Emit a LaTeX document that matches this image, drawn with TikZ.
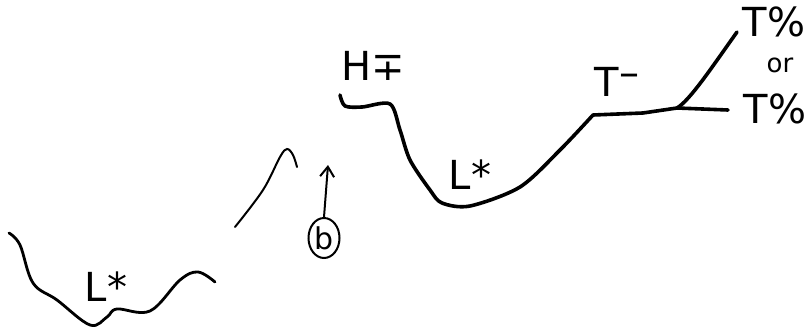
\documentclass[tikz,border=0pt]{standalone}
\usepackage{fontspec}
\setmainfont{DejaVu Sans}
\usetikzlibrary{arrows.meta,shapes.geometric}
\tikzset{
  contour/.style={line width=2.8pt, line cap=round, line join=round},
  thinline/.style={line width=2pt, line cap=round},
  tonelabel/.style={font=\fontsize{40}{40}\selectfont, inner sep=0pt},
}
\begin{document}
\begin{tikzpicture}[x=1pt, y=-1pt]
      \useasboundingbox (0,0) rectangle (809,332);
      % left contour
      \draw[contour] plot[smooth, tension=0.6] coordinates {(9,233) (20,245) (33,283) (57,300) (90,325) (107,317) (117,309) (150,311) (180,280) (198,272) (215,282)};
      \node[tonelabel] (lstarA) at (106,287) {L*};
      % rising piece and peak
      \draw[thinline] plot[smooth, tension=0.6] coordinates {(235,227) (263,190) (280,157) (287,149) (293,155) (297,167)};
      \node[draw, ellipse, thinline, minimum width=31pt, minimum height=40pt, inner sep=0pt,
            font=\fontsize{30}{30}\selectfont] (bmark) at (324,238) {b};
      \coordinate (btip) at (328,165);
      \draw[thinline, -{Straight Barb[length=10pt, width=14pt]}] (bmark.north) -- (btip);
      % right contour
      \coordinate (junc) at (677,108);
      \draw[contour, line width=3.6pt] plot[smooth, tension=0.5] coordinates {(340,95) (345,106) (362,107) (390,104) (400,130) (410,160) (430,190) (442,203) (470,206) (520,187) (560,150) (593,115)}
            -- (643,113) -- (junc) -- (728,110);
      \coordinate (rise) at (737,32);
      \draw[contour, line width=3.6pt] (junc) .. controls (690,100) and (710,70) .. (rise);
      \node[tonelabel] (hplus) at (373,66) {H∓};
      \node[tonelabel] (lstarB) at (470,175) {L*};
      \node[tonelabel] (tminus) at (617,82) {T\raisebox{0.45ex}{–}};
      \node[tonelabel] (tpctA) at (774,22) {T\%};
      \node[font=\fontsize{26}{26}\selectfont, inner sep=0pt] (orword) at (780,65) {or};
      \node[tonelabel] (tpctB) at (775,109) {T\%};
\end{tikzpicture}
\end{document}
